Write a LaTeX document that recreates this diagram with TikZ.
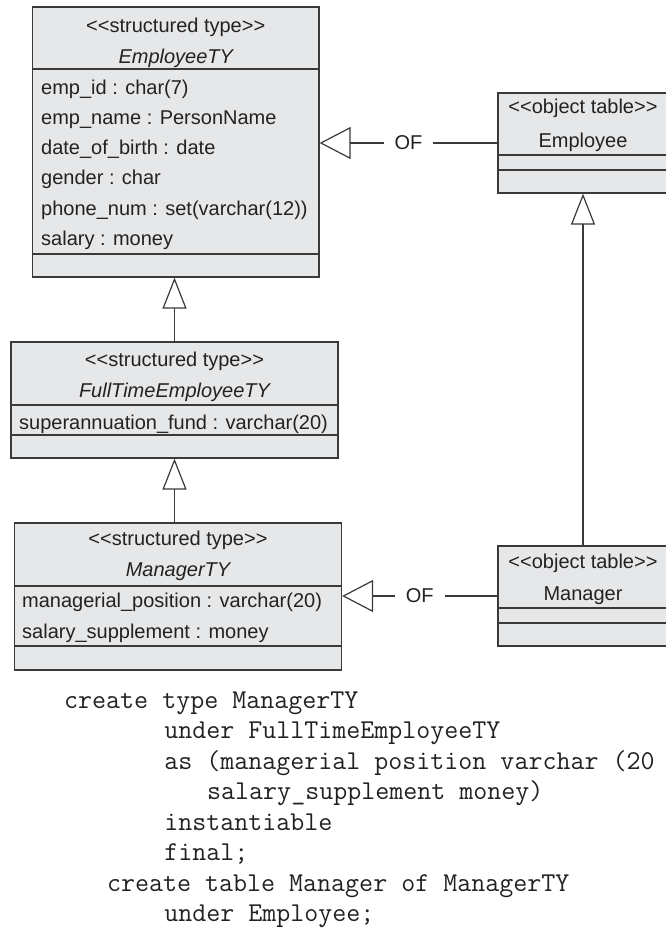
\documentclass[tikz,border=0pt]{standalone}
\usepackage{fontspec}
\newfontfamily\umlfont{Liberation Sans}
\usetikzlibrary{arrows.meta, positioning, fit}
\definecolor{boxfill}{HTML}{E6E7E9}
\definecolor{boxline}{HTML}{3A3A3A}
\definecolor{ink}{HTML}{222222}

\tikzset{
  classbox/.style={draw=boxline, fill=boxfill, line width=1.2bp, inner sep=0pt},
  sepline/.style={draw=boxline, line width=1.2bp},
  attr/.style={inner sep=0pt, anchor=base west, text=ink,
               font=\umlfont\fontsize{20bp}{24bp}\selectfont},
  head/.style={attr, anchor=base},
  code/.style={inner sep=0pt, anchor=base west, text=ink,
               font=\ttfamily\fontsize{27.2bp}{32bp}\selectfont},
  inherit/.style={draw=boxline, line width=1.2bp,
                  -{Triangle[open, length=31bp, width=24bp]}},
  oflink/.style={draw=boxline, line width=1.2bp,
                 -{Triangle[open, length=31bp, width=32bp]}},
  oflabel/.style={fill=white, inner xsep=11bp, inner ysep=2bp, text=ink,
                  font=\umlfont\fontsize{20bp}{24bp}\selectfont},
}

\begin{document}
\begin{tikzpicture}[x=1bp, y=-1bp]
  \useasboundingbox (0,0) rectangle (666,929);
  \fill[white] (0,0) rectangle (666,929);
  \clip (0,0) rectangle (666,929);

  % EmployeeTY
  \node[classbox, fit={(32.5,7) (319,277)}] (emp) {};
  \draw[sepline] (32.5,69) -- (319,69);
  \draw[sepline] (32.5,254) -- (319,254);
  \node[head] (emp-st) at (175.75,32) {<<structured type>>};
  \node[head] (emp-name) at (175.75,63) {\itshape EmployeeTY};
  \node[attr] (emp-a1) at (41,94) {emp\_id : char(7)};
  \node[attr] (emp-a2) at (41,124.3) {emp\_name : PersonName};
  \node[attr] (emp-a3) at (41,154.6) {date\_of\_birth : date};
  \node[attr] (emp-a4) at (41,184.9) {gender : char};
  \node[attr] (emp-a5) at (41,215.2) {phone\_num : set(varchar(12))};
  \node[attr] (emp-a6) at (41,245.5) {salary : money};

  % FullTimeEmployeeTY
  \node[classbox, fit={(11,342) (338,458)}] (full) {};
  \draw[sepline] (11,405) -- (338,405);
  \draw[sepline] (11,435) -- (338,435);
  \node[head] (full-st) at (174.5,366) {<<structured type>>};
  \node[head] (full-name) at (174.5,397) {\itshape FullTimeEmployeeTY};
  \node[attr] (full-a1) at (19,429) {superannuation\_fund : varchar(20)};

  % ManagerTY
  \node[classbox, fit={(14.5,523) (341.5,670)}] (mgr) {};
  \draw[sepline] (14.5,586) -- (341.5,586);
  \draw[sepline] (14.5,646) -- (341.5,646);
  \node[head] (mgr-st) at (178,545) {<<structured type>>};
  \node[head] (mgr-name) at (178,576) {\itshape ManagerTY};
  \node[attr] (mgr-a1) at (22,607) {managerial\_position : varchar(20)};
  \node[attr] (mgr-a2) at (22,638) {salary\_supplement : money};

  % object tables
  \node[classbox, fit={(498,93) (668,193)}] (emptab) {};
  \draw[sepline] (498,155) -- (668,155);
  \draw[sepline] (498,170) -- (668,170);
  \node[head] (emptab-st) at (583,113) {<<object table>>};
  \node[head] (emptab-name) at (583,147) {Employee};

  \node[classbox, fit={(498,546) (668,646)}] (mgrtab) {};
  \draw[sepline] (498,608) -- (668,608);
  \draw[sepline] (498,623) -- (668,623);
  \node[head] (mgrtab-st) at (583,568) {<<object table>>};
  \node[head] (mgrtab-name) at (583,600) {Manager};

  % inheritance
  \draw[inherit] (full.north) -- (full.north |- emp.south);
  \draw[inherit] (full.south |- mgr.north) -- (full.south);
  \draw[inherit] (mgrtab.north) -- (emptab.south);

  % table OF type
  \draw[oflink] (emptab.west) -- (emp.east |- emptab.west)
    node[oflabel, midway] (of-emp) {OF};
  \draw[oflink] (mgrtab.west) -- (mgr.east |- mgrtab.west)
    node[oflabel, midway] (of-mgr) {OF};

  % SQL
  \node[code] (sql1) at (64,708) {create type ManagerTY};
  \node[code] (sql2) at (164.1,738.5) {under FullTimeEmployeeTY};
  \node[code] (sql3) at (164.1,769) {as (managerial position varchar (20};
  \node[code] (sql4) at (207,799.5) {salary\_supplement money)};
  \node[code] (sql5) at (164.1,830) {instantiable};
  \node[code] (sql6) at (164.1,860.5) {final;};
  \node[code] (sql7) at (106.9,891) {create table Manager of ManagerTY};
  \node[code] (sql8) at (164.1,921.5) {under Employee;};
\end{tikzpicture}
\end{document}
